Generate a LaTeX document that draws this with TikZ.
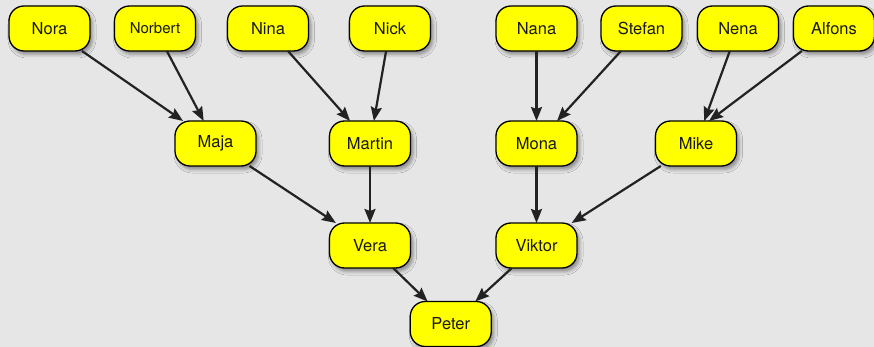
\documentclass[tikz,border=0pt]{standalone}
\usepackage{fontspec}
\setmainfont{TeX Gyre Heros}
\usepackage{tikz}
\usetikzlibrary{positioning,arrows.meta,calc,shadows.blur}
\usepackage{xcolor}
\definecolor{bggray}{RGB}{230,230,230}
\definecolor{boxyellow}{RGB}{255,255,0}
\definecolor{linkgray}{RGB}{34,34,34}

\begin{document}
\begin{tikzpicture}[
  font=\fontsize{16.5pt}{18pt}\selectfont,
  node distance=70pt and 24pt,
  person/.style={
    rectangle, rounded corners=15pt,
    draw=black, line width=1.3pt, fill=boxyellow,
    minimum width=81pt, minimum height=45pt,
    inner sep=3pt, outer sep=0pt, text=black!90,
    blur shadow={shadow xshift=2.5pt, shadow yshift=-3.5pt,
                 shadow blur radius=3.5pt, shadow opacity=40}
  },
  smallname/.style={font=\fontsize{15pt}{16pt}\selectfont},
  link/.style={
    draw=linkgray, line width=2.2pt,
    -{Stealth[length=14pt, width=11pt, inset=2pt]}
  }
]

\fill[bggray] (0,0) rectangle (874pt,-347pt);
\useasboundingbox (0,0) rectangle (874pt,-347pt);

% grandparents
\node[person] (nora) at (49.5pt,-28.5pt) {Nora};
\node[person, smallname, right=24.5pt of nora] (norbert) {Norbert};
\node[person, right=32pt of norbert] (nina) {Nina};
\node[person, right=41pt of nina] (nick) {Nick};
\node[person, right=65.5pt of nick] (nana) {Nana};
\node[person, right=24pt of nana] (stefan) {Stefan};
\node[person, right=15.5pt of stefan] (nena) {Nena};
\node[person, right=15pt of nena] (alfons) {Alfons};

% parents of the parents
\node[person, below=70pt of nana] (mona) {Mona};
\node[person, left=85.5pt of mona] (martin) {Martin};
\node[person, left=73.5pt of martin] (maja) {Maja};
\node[person, right=78.5pt of mona] (mike) {Mike};

% parents
\node[person, below=57pt of martin] (vera) {Vera};
\node[person, below=57pt of mona] (viktor) {Viktor};

\coordinate (vmid) at ($(vera.south)!0.5!(viktor.south)+(-2.5pt,0)$);
\node[person, below=33.5pt of vmid] (peter) {Peter};

\draw[link] (nora) -- (maja);
\draw[link] (norbert) -- (maja);
\draw[link] (nina) -- (martin);
\draw[link] (nick) -- (martin);
\draw[link] (nana) -- (mona);
\draw[link] (stefan) -- (mona);
\draw[link] (nena) -- (mike);
\draw[link] (alfons.215) -- (mike.60);
\draw[link] (maja) -- (vera);
\draw[link] (martin) -- (vera);
\draw[link] (mona) -- (viktor);
\draw[link] (mike) -- (viktor);
\draw[link] (vera) -- (peter);
\draw[link] (viktor) -- (peter);

\end{tikzpicture}
\end{document}
